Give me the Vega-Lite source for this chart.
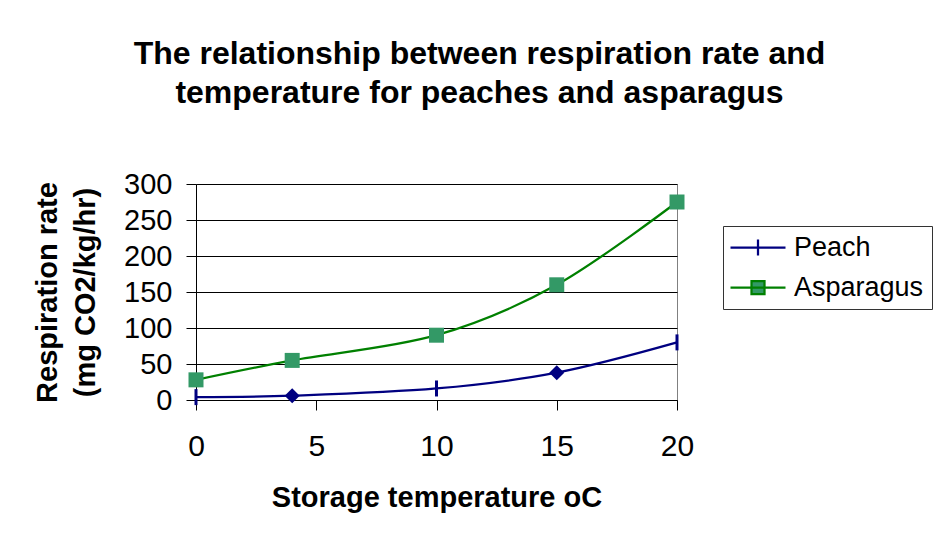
{
  "$schema": "https://vega.github.io/schema/vega-lite/v6.json",
  "autosize": "none",
  "width": 481,
  "height": 216,
  "padding": {"left": 196, "top": 184, "right": 257, "bottom": 133},
  "background": "white",
  "title": {
    "text": ["The relationship between respiration rate and", "temperature for peaches and asparagus"],
    "font": "Liberation Sans",
    "fontSize": 32,
    "fontWeight": "bold",
    "color": "black",
    "lineHeight": 39,
    "anchor": "middle",
    "frame": "group",
    "dx": 43,
    "offset": 60
  },
  "data": {
    "values": [
      {"series": "Peach", "temp": 0, "rate": 4},
      {"series": "Peach", "temp": 4, "rate": 6},
      {"series": "Peach", "temp": 10, "rate": 16},
      {"series": "Peach", "temp": 15, "rate": 38},
      {"series": "Peach", "temp": 20, "rate": 80},
      {"series": "Asparagus", "temp": 0, "rate": 28},
      {"series": "Asparagus", "temp": 4, "rate": 55},
      {"series": "Asparagus", "temp": 10, "rate": 90},
      {"series": "Asparagus", "temp": 15, "rate": 160},
      {"series": "Asparagus", "temp": 20, "rate": 275}
    ]
  },
  "encoding": {
    "x": {
      "field": "temp", "type": "quantitative",
      "scale": {"domain": [0, 20], "nice": false},
      "axis": {
        "values": [0, 5, 10, 15, 20],
        "grid": false,
        "title": "Storage temperature oC",
        "titleFont": "Liberation Sans", "titleFontSize": 29, "titleFontWeight": "bold", "titleColor": "black",
        "titleBaseline": "alphabetic", "titleY": 106,
        "labelFont": "Liberation Sans", "labelFontSize": 30, "labelColor": "black", "labelPadding": 21,
        "tickSize": 10, "tickColor": "black", "domainColor": "black", "labelFlush": false
      }
    },
    "y": {
      "field": "rate", "type": "quantitative",
      "scale": {"domain": [0, 300], "nice": false},
      "axis": {
        "values": [0, 50, 100, 150, 200, 250, 300],
        "grid": true, "gridColor": "black", "gridWidth": 1, "gridOpacity": 1,
        "title": ["Respiration rate", "(mg CO2/kg/hr)"],
        "titleFont": "Liberation Sans", "titleFontSize": 29, "titleFontWeight": "bold", "titleColor": "black",
        "titleLineHeight": 38, "titleAngle": -90, "titleBaseline": "middle", "titleAlign": "center",
        "titleX": -149, "titleY": 108,
        "labelFont": "Liberation Sans", "labelFontSize": 29, "labelColor": "black", "labelPadding": 14,
        "tickSize": 10, "tickColor": "black", "domainColor": "black", "labelFlush": false
      }
    }
  },
  "layer": [
    {
      "mark": {"type": "line", "interpolate": "cardinal", "strokeWidth": 2.25},
      "encoding": {
        "color": {
          "field": "series", "type": "nominal",
          "scale": {"domain": ["Peach", "Asparagus"], "range": ["#000080", "#008000"]},
          "legend": {
            "title": null,
            "orient": "none",
            "legendX": 527,
            "legendY": 42,
            "labelFont": "Liberation Sans",
            "labelFontSize": 27,
            "labelColor": "black",
            "strokeColor": "#333333",
            "padding": 8,
            "symbolSize": 400,
            "symbolStrokeWidth": 2.25,
            "rowPadding": 12,
            "labelOffset": 36,
            "encode": {
              "symbols": {
                "update": {
                  "shape": {"signal": "datum.value === 'Peach' ? 'M-1.4,0L4.1,0M1.35,-0.8L1.35,0.8' : 'M-1.4,0L4.1,0M0.7,-0.65L2,-0.65L2,0.65L0.7,0.65Z'"},
                  "fill": {"signal": "datum.value === 'Asparagus' ? '#339966' : 'transparent'"},
                  "opacity": {"value": 1}
                }
              }
            }
          }
        }
      }
    },
    {
      "transform": [{"filter": "datum.series === 'Peach' && (datum.temp === 0 || datum.temp === 10 || datum.temp === 20)"}],
      "mark": {"type": "point", "shape": "M0,-1L0,1", "size": 256, "filled": false, "strokeWidth": 3, "color": "#000080", "opacity": 1}
    },
    {
      "transform": [{"filter": "datum.series === 'Peach' && (datum.temp === 4 || datum.temp === 15)"}],
      "mark": {"type": "point", "shape": "diamond", "size": 225, "filled": true, "color": "#000080", "opacity": 1}
    },
    {
      "transform": [{"filter": "datum.series === 'Asparagus'"}],
      "mark": {"type": "point", "shape": "square", "size": 225, "filled": true, "color": "#339966", "opacity": 1}
    }
  ],
  "config": {
    "view": {"stroke": "#808080", "strokeWidth": 1}
  }
}
